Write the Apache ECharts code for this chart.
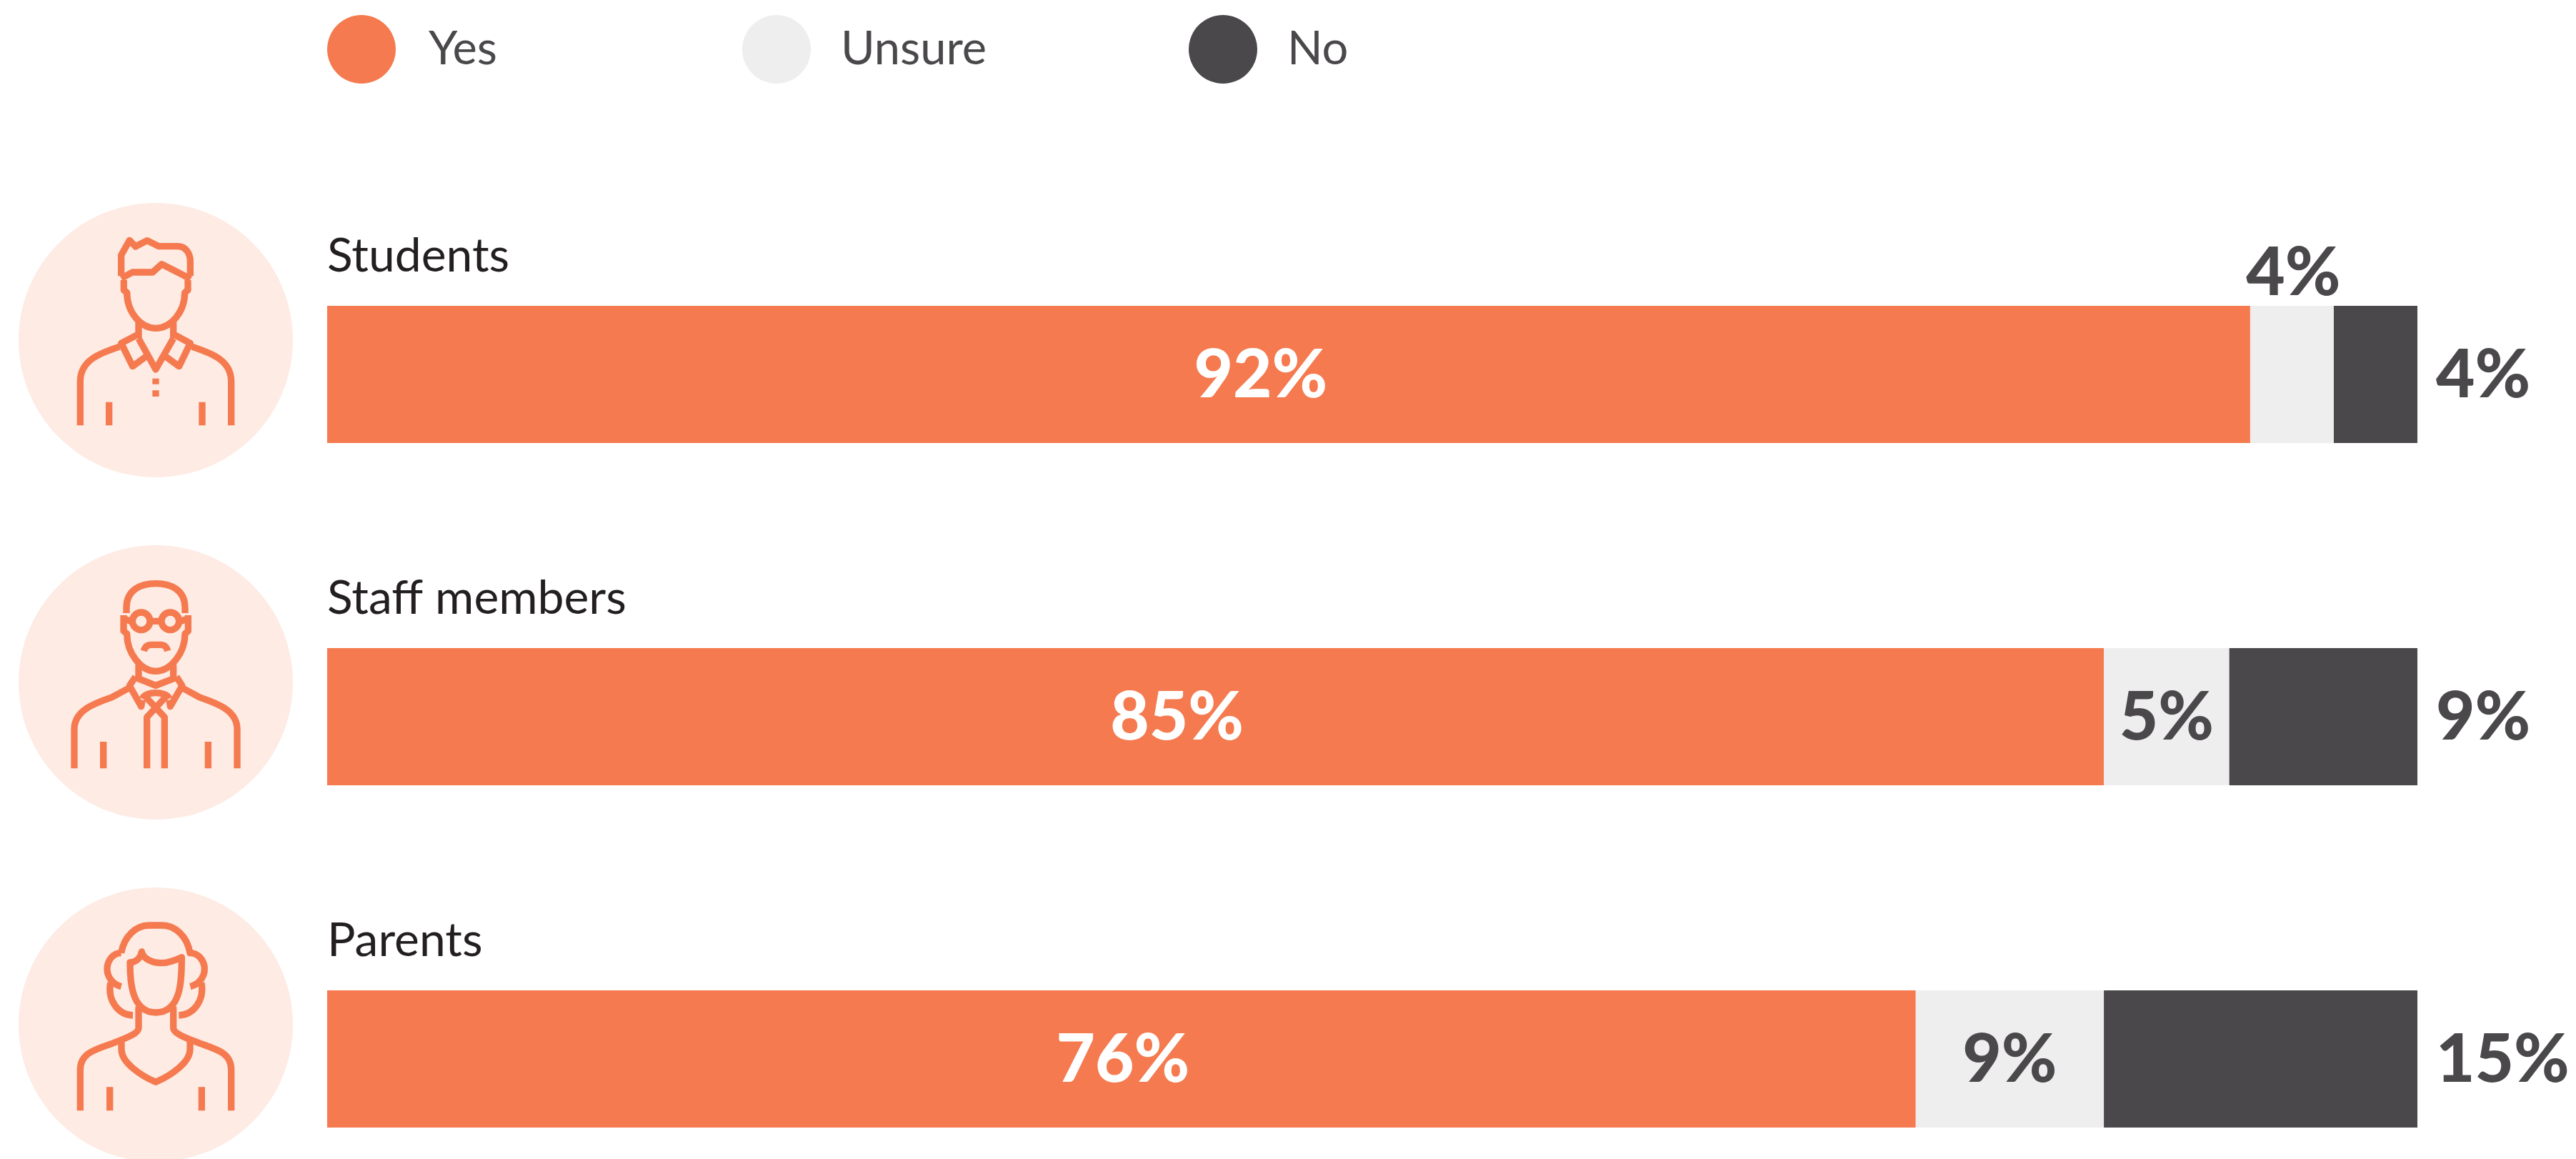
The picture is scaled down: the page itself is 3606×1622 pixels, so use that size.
<!DOCTYPE html>
<html>
<head>
<meta charset="utf-8">
<style>
  html, body { margin: 0; padding: 0; background: #fff; }
  #chart { width: 3606px; height: 1622px; }
</style>
<script src="https://cdn.jsdelivr.net/npm/echarts@6/dist/echarts.min.js"></script>
</head>
<body>
<div id="chart"></div>
<script>
var categories = ['Students', 'Staff members', 'Parents'];
var yesValues = [92, 85, 76];
var unsureValues = [4, 6, 9];
var noValues = [4, 9, 15];

// the printed labels, staff "unsure" is printed 5% though the bar is longer
var yesLabels = ['92%', '85%', '76%'];
var unsureLabels = ['4%', '5%', '9%'];
var noLabels = ['4%', '9%', '15%'];

var ORANGE = '#f57a4f';
var LIGHT = '#eeeeee';
var DARK = '#4a484b';
var FONT = 'Lato';

// icons, drawn in a 3x space, circle centre is x 653 and iconCentreY[i]
var iconCentreY = [647, 644, 641];
var icons = [
  // student
  'M508 378V290L543 228L568 254L617 229L665 253H745C780 253 798 285 798 315V378' +
  'M508 388L555 362H640L678 328L745 362Q775 376 798 392' +
  'M519 395V437L532 447C532 530 590 597 653 597C716 597 775 530 775 447L788 437V395' +
  'M581 570V640M727 570V640M581 640L653 770L727 640' +
  'M581 622L508 660L556 757L612 716M727 622L798 660L751 757L695 716' +
  'M500 675C420 702 336 730 336 820V1005M806 675C886 702 970 730 970 820V1005' +
  'M457 907V1005M848 907V1005M653 808V832M653 858V884',
  // staff
  'M530 353V330C530 255 590 229 653 229C716 229 776 255 776 330V353' +
  'M629 387A37 37 0 1 1 555 387A37 37 0 1 1 629 387M751 387A37 37 0 1 1 677 387A37 37 0 1 1 751 387M629 387H677' +
  'M518 362V428L532 440C532 520 590 597 653 597C716 597 776 520 776 440L789 428V362' +
  'M518 376L555 390M789 376L751 390' +
  'M603 512C608 492 620 486 635 486H672C688 486 698 492 703 512' +
  'M581 570V622M727 570V622M572 625L653 657L736 625' +
  'M568 620L543 658L592 745L597 718M740 620L764 658L714 745L710 718' +
  'M597 712C610 680 696 680 710 712M612 706L690 790V1005M694 706L616 790V1005' +
  'M540 668L470 706C400 730 311 760 311 840V1005M766 668L836 706C906 730 995 760 995 840V1005' +
  'M433 893V1005M873 893V1005',
  // parent
  'M508 340C520 270 570 224 625 224H680C735 224 785 270 797 340C830 340 858 370 858 408C858 435 840 470 798 481' +
  'M508 340C475 340 449 370 449 408C449 435 467 470 508 481' +
  'M463 465C450 540 495 600 557 602M845 465C858 540 812 600 750 602' +
  'M545 380C575 378 592 355 594 335C600 365 640 382 677 382C710 382 740 368 762 358C762 440 765 590 653 590C545 590 545 440 545 380Z' +
  'M581 565V655C581 680 520 700 470 720C400 745 336 760 336 830V1002' +
  'M727 565V655C727 680 790 700 840 720C910 745 970 760 970 830V1002' +
  'M509 705V745C509 800 590 855 653 882C716 855 797 800 797 745V705' +
  'M460 903V1002M846 903V1002'
];

// how far each "yes" label sits from the middle of its bar in the reference
var yesLabelShift = [-39, -54, 2];

function legendAt(name, left, textGap) {
  return {
    data: [name],
    left: left,
    top: 21,
    padding: 0,
    icon: 'circle',
    itemWidth: 96,
    itemHeight: 96,
    selectedMode: false,
    textStyle: { fontFamily: FONT, fontSize: 65, color: DARK, padding: [10, 0, 0, textGap] }
  };
}

var myChart = echarts.init(document.getElementById('chart'));

var option = {
  animation: false,
  legend: [legendAt('Yes', 458, 41), legendAt('Unsure', 1039, 37), legendAt('No', 1664, 37)],
  grid: { left: 458, top: 284.5, width: 2926, height: 1437, outerBoundsMode: 'none' },
  xAxis: { type: 'value', min: 0, max: 100, show: false },
  yAxis: {
    type: 'category',
    data: categories,
    inverse: true,
    axisLine: { show: false },
    axisTick: { show: false },
    splitLine: { show: false },
    axisLabel: { show: false }
  },
  series: [
    {
      name: 'Yes',
      type: 'bar',
      stack: 'total',
      barWidth: 192,
      itemStyle: { color: ORANGE },
      data: yesValues.map(function(v, i) {
        return { value: v, label: { offset: [yesLabelShift[i], 2] } };
      }),
      label: {
        show: true,
        position: 'inside',
        fontFamily: FONT,
        fontSize: 94,
        fontWeight: 900,
        color: '#fff',
        formatter: function(p) { return yesLabels[p.dataIndex]; }
      }
    },
    {
      name: 'Unsure',
      type: 'bar',
      stack: 'total',
      itemStyle: { color: LIGHT },
      data: unsureValues.map(function(v, i) {
        // the students segment is too thin, its label goes on top
        return i === 0 ? { value: v, label: { position: 'top', distance: -2, offset: [2, 0] } } : v;
      }),
      label: {
        show: true,
        position: 'inside',
        offset: [0, 2],
        fontFamily: FONT,
        fontSize: 94,
        fontWeight: 900,
        color: DARK,
        formatter: function(p) { return unsureLabels[p.dataIndex]; }
      }
    },
    {
      name: 'No',
      type: 'bar',
      stack: 'total',
      itemStyle: { color: DARK },
      data: noValues,
      label: {
        show: true,
        position: 'right',
        distance: 26,
        offset: [0, 2],
        fontFamily: FONT,
        fontSize: 94,
        fontWeight: 900,
        color: DARK,
        formatter: function(p) { return noLabels[p.dataIndex]; }
      }
    },
    {
      name: 'Icons',
      type: 'custom',
      silent: true,
      data: categories.map(function(c, i) { return [0, i]; }),
      encode: { x: 0, y: 1 },
      renderItem: function(params, api) {
        var i = params.dataIndex;
        var pt = api.coord([0, i]);
        var cy = pt[1] - 48;
        return {
          type: 'group',
          children: [
            {
              type: 'circle',
              shape: { cx: 218, cy: cy, r: 192 },
              style: { fill: '#fdebe4' }
            },
            {
              type: 'path',
              x: 218 - 653 / 3,
              y: cy - iconCentreY[i] / 3,
              scaleX: 1 / 3,
              scaleY: 1 / 3,
              shape: { pathData: icons[i] },
              style: { fill: 'none', stroke: ORANGE, lineWidth: 28, lineJoin: 'round' }
            },
            {
              // the category name above the bar
              type: 'text',
              x: pt[0],
              y: pt[1] - 165,
              style: {
                text: categories[i],
                fontFamily: FONT,
                fontSize: 66,
                fill: '#231f20',
                align: 'left',
                verticalAlign: 'middle'
              }
            }
          ]
        };
      }
    }
  ]
};

myChart.setOption(option);
</script>
</body>
</html>
